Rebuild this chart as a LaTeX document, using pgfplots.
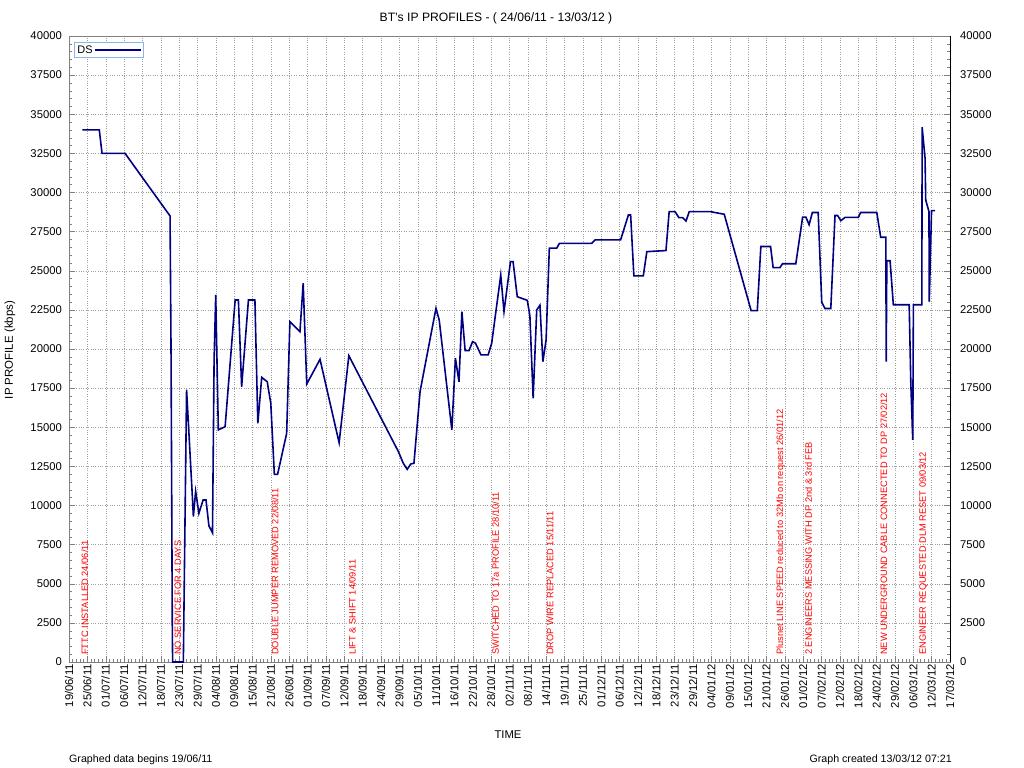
\documentclass[border=0pt]{standalone}
\usepackage{pgfplots}
\pgfplotsset{compat=1.18}
\usepackage{fontspec}
\setmainfont{Liberation Sans}
\definecolor{dsline}{RGB}{0,0,128}
\definecolor{legborder}{RGB}{140,180,230}
\definecolor{axisgray}{RGB}{128,128,128}

% days since 19/06/11, IP profile in kbps
\pgfplotstableread{
day   ds
4.1   34000
9.35  34000
10.2  32500
17.3  32500
31.2  28500
31.5  20000
31.9  2000
32.0  0
35.3  0
36.3  17400
38.0  10900
38.4  9300
39.1  10900
40.1  9500
41.4  10350
42.3  10350
43.2  8700
44.3  8250
44.8  19300
45.3  23450
46.1  14830
48.2  15040
51.3  23130
52.3  23130
53.3  17590
55.4  23130
57.4  23130
58.3  15250
59.5  18190
61.2  17910
62.3  16530
63.4  11990
64.4  11990
67.2  14610
68.2  21750
71.3  21100
72.3  24200
73.4  17760
77.5  19340
83.4  14010
86.4  19570
101.7 13440
103.2 12700
104.4 12310
105.5 12650
106.5 12700
108.4 17300
113.3 22600
114.3 21850
118.2 14830
119.3 19410
120.4 17910
121.3 22390
122.3 19900
123.5 19900
124.6 20470
125.5 20370
127.2 19620
129.4 19620
130.5 20370
133.3 24730
134.3 22390
136.3 25580
137.1 25580
138.4 23340
141.5 23110
142.3 22100
143.3 16850
144.4 22490
145.4 22800
146.3 19190
147.3 20580
148.3 26450
150.6 26450
151.4 26750
161.4 26750
162.4 26970
170.3 26970
172.7 28560
173.4 28560
174.4 24670
177.3 24670
178.4 26220
184.3 26290
185.3 28780
187.1 28780
188.3 28390
189.5 28390
190.5 28180
191.5 28780
197.9 28780
202.3 28610
210.6 22450
212.5 22450
213.6 26550
216.6 26550
217.4 25200
219.5 25200
220.3 25450
224.4 25450
226.5 28430
227.5 28430
228.5 27940
229.5 28720
231.3 28720
232.4 22990
233.4 22590
235.2 22590
236.5 28530
237.3 28530
238.3 28200
239.6 28410
243.7 28410
244.4 28720
249.4 28720
250.6 27140
252.2 27140
252.3 19190
252.5 25640
253.5 25640
254.5 22830
259.4 22830
259.9 17810
260.5 14190
260.7 22830
263.3 22830
263.4 34170
264.3 32180
264.5 29520
265.5 28780
265.6 23020
266.3 28840
267.4 28840
}\dsdata

\begin{document}
\begin{tikzpicture}
\useasboundingbox (-69bp,-106bp) rectangle (955bp,662bp);
\pgfplotsset{
  ipbase/.style={
    at={(0,0)}, anchor=south west, scale only axis,
    width=881bp, height=626bp,
    xmin=0, xmax=272, ymin=0, ymax=40000,
    ytick={0,2500,...,40000},
    scaled y ticks=false,
    tick label style={font=\fontsize{11.3}{12}\selectfont},
    /pgf/number format/fixed,
    /pgf/number format/1000 sep={},
    /pgf/number format/assume math mode=true,
  }
}
\begin{axis}[
  ipbase,
  xtick={0,5.66666,...,272.1},
  xticklabels={19/06/11,25/06/11,01/07/11,06/07/11,12/07/11,18/07/11,23/07/11,29/07/11,04/08/11,09/08/11,15/08/11,21/08/11,26/08/11,01/09/11,07/09/11,12/09/11,18/09/11,24/09/11,29/09/11,05/10/11,11/10/11,16/10/11,22/10/11,28/10/11,02/11/11,08/11/11,14/11/11,19/11/11,25/11/11,01/12/11,06/12/11,12/12/11,18/12/11,23/12/11,29/12/11,04/01/12,09/01/12,15/01/12,21/01/12,26/01/12,01/02/12,07/02/12,12/02/12,18/02/12,24/02/12,29/02/12,06/03/12,12/03/12,17/03/12},
  minor x tick num=4, minor y tick num=4,
  xtick pos=lower, ytick pos=both,
  tick align=inside,
  major tick length=6bp, minor tick length=3bp,
  every tick/.style={axisgray},
  axis line style={axisgray},
  grid=major,
  major grid style={dotted, gray!75},
  xticklabel style={rotate=90, anchor=east, inner sep=2bp},
  yticklabel style={inner sep=2bp, xshift=-5bp},
  legend style={at={(0.006,0.99)}, anchor=north west, draw=legborder,
    font=\fontsize{11}{12}\selectfont, inner sep=1bp, row sep=0bp,
    legend cell align=left},
  legend plot pos=right,
  legend image code/.code={\draw[#1] (0bp,0bp) -- (46bp,0bp);},
]
\addplot[dsline, line width=1.6bp] table[x=day, y=ds] {\dsdata};
\addlegendentry{DS}

\begin{scope}[every node/.style={rotate=90, anchor=west, inner sep=0pt, red,
    font=\fontsize{9.3}{10}\selectfont}]
\node at (axis cs:4.9,450) {FTTC INSTALLED 24/06/11};
\node at (axis cs:33.6,450) {NO SERVICE FOR 4 DAYS};
\node at (axis cs:63.6,450) {DOUBLE JUMPER REMOVED 22/08/11};
\node at (axis cs:87.5,450) {LIFT \& SHIFT 14/09/11};
\node at (axis cs:131.7,450) {SWITCHED TO 17a PROFILE 28/10/11};
\node at (axis cs:148.5,450) {DROP WIRE REPLACED 15/11/11};
\node at (axis cs:219.7,450) {Plusnet LINE SPEED reduced to 32Mb on request 26/01/12};
\node at (axis cs:228.3,450) {2 ENGINEERS MESSING WITH DP 2nd \& 3rd FEB};
\node at (axis cs:251.6,450) {NEW UNDERGROUND CABLE CONNECTED TO DP 27/02/12};
\node at (axis cs:263.8,450) {ENGINEER REQUESTED DLM RESET 09/03/12};
\end{scope}
\end{axis}

\begin{axis}[
  ipbase,
  axis y line*=right, axis x line=none,
  ytick style={draw=none},
  yticklabel style={inner sep=2bp, xshift=8bp},
]
\end{axis}

\node[font=\fontsize{12.2}{13}\selectfont] at (427bp,644bp) {BT's IP PROFILES - ( 24/06/11 - 13/03/12 )};
\node[rotate=90, font=\fontsize{11.5}{12}\selectfont] at (-59bp,312bp) {IP PROFILE (kbps)};
\node[font=\fontsize{11.3}{12}\selectfont] at (439bp,-73bp) {TIME};
\node[anchor=west, inner sep=0pt, font=\fontsize{10.7}{12}\selectfont] at (0bp,-98bp) {Graphed data begins 19/06/11};
\node[anchor=east, inner sep=0pt, font=\fontsize{10.7}{12}\selectfont] at (883bp,-98bp) {Graph created 13/03/12 07:21};
\end{tikzpicture}
\end{document}
